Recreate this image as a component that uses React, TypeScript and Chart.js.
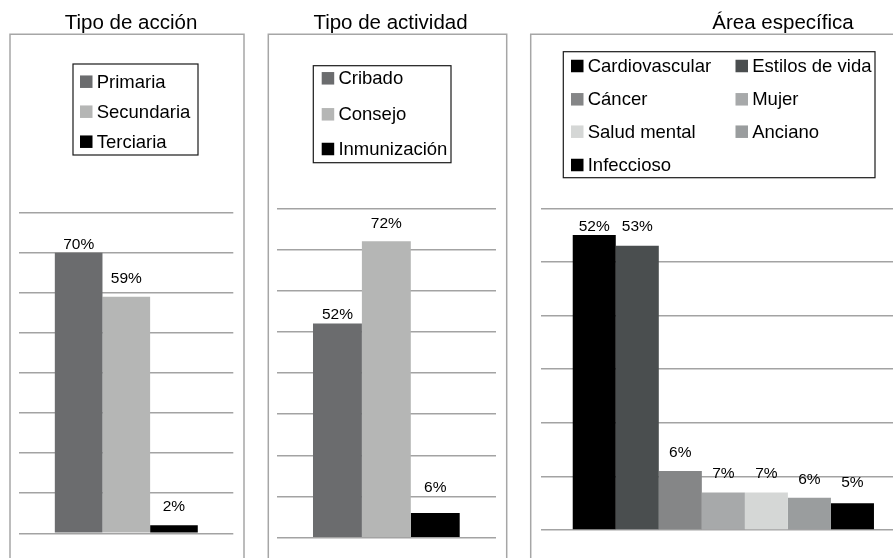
import React, { useEffect, useRef } from "react";
import { Chart, registerables } from "chart.js";

Chart.register(...registerables);

// ---------- DATA ----------
const accionTitle = "Tipo de acción";
const accionSeries = ["Primaria", "Secundaria", "Terciaria"];
const accionValues = [70, 59, 2];
const accionLabels = ["70%", "59%", "2%"];

const actividadTitle = "Tipo de actividad";
const actividadSeries = ["Cribado", "Consejo", "Inmunización"];
const actividadValues = [52, 72, 6];
const actividadLabels = ["52%", "72%", "6%"];

const areaTitle = "Área específica";
const areaSeries = [
  "Cardiovascular",
  "Estilos de vida",
  "Cáncer",
  "Mujer",
  "Salud mental",
  "Anciano",
  "Infeccioso",
];
// bar heights as drawn in the picture
const areaValues = [55, 53, 11, 7, 7, 6, 5];
// labels as printed in the picture
const areaLabels = ["52%", "53%", "6%", "7%", "7%", "6%", "5%"];

const accionAxisMax = 80;
const actividadAxisMax = 80;
const areaAxisMax = 60;
const axisStep = 10;

// ---------- STYLE ----------
const FONT = '"Liberation Sans", Arial, Helvetica, sans-serif';

type PanelStyle = {
  left: number;
  width: number;
  pad: { left: number; right: number; top: number; bottom: number };
  titleX: number;
  titleY: number;
  box: { left: number; top: number; right: number };
  legend: {
    left: number;
    top: number;
    right: number;
    bottom: number;
    cols: number[];
    rows: number[];
  };
  catPct: number;
  yMax: number;
  colors: string[];
  labelOffsets: number[];
};

const style1: PanelStyle = {
  left: 0,
  width: 254,
  pad: { left: 19.3, right: 20.7, top: 212.7, bottom: 24.7 },
  titleX: 131,
  titleY: 29.3,
  box: { left: 10, top: 34.3, right: 244 },
  legend: { left: 73, top: 64, right: 198, bottom: 155, cols: [80], rows: [81.7, 111.7, 141.7] },
  catPct: 0.668,
  yMax: accionAxisMax,
  colors: ["#6b6c6e", "#b5b6b5", "#000000"],
  labelOffsets: [8.5, 18, 19],
};

const style2: PanelStyle = {
  left: 256,
  width: 262,
  pad: { left: 20.7, right: 22, top: 208.3, bottom: 20.3 },
  titleX: 390.5,
  titleY: 29.3,
  box: { left: 268.3, top: 34.3, right: 506.7 },
  legend: { left: 313.3, top: 65.7, right: 451, bottom: 162.7, cols: [321.7], rows: [78.3, 114.3, 149] },
  catPct: 0.669,
  yMax: actividadAxisMax,
  colors: ["#6b6c6e", "#b5b6b5", "#000000"],
  labelOffsets: [8.5, 18, 25],
};

const style3: PanelStyle = {
  left: 520,
  width: 400,
  pad: { left: 21, right: 14.3, top: 208.3, bottom: 28 },
  titleX: 783,
  titleY: 29.3,
  box: { left: 530.7, top: 34.3, right: 915 },
  legend: {
    left: 563.3,
    top: 51.7,
    right: 875,
    bottom: 177.7,
    cols: [571, 735.5],
    rows: [66, 99.3, 131.7, 165],
  },
  catPct: 0.826,
  yMax: areaAxisMax,
  colors: ["#000000", "#4a4e4f", "#858687", "#a7a9aa", "#d5d7d6", "#9a9d9e", "#000000"],
  labelOffsets: [8, 19, 18, 19, 19, 18, 20],
};

function makePlugin(title: string, series: string[], labels: string[], st: PanelStyle) {
  return {
    id: "panelDeco",
    beforeDraw(chart: any) {
      const ctx = chart.ctx as CanvasRenderingContext2D;
      const ox = st.left;
      ctx.save();
      ctx.fillStyle = "#ffffff";
      ctx.fillRect(0, 0, chart.width, chart.height);
      // panel box
      ctx.strokeStyle = "#a6a6a6";
      ctx.lineWidth = 1.5;
      ctx.beginPath();
      ctx.moveTo(st.box.left - ox, chart.height + 5);
      ctx.lineTo(st.box.left - ox, st.box.top);
      ctx.lineTo(st.box.right - ox, st.box.top);
      ctx.lineTo(st.box.right - ox, chart.height + 5);
      ctx.stroke();
      // title
      ctx.fillStyle = "#000000";
      ctx.font = `20.5px ${FONT}`;
      ctx.textAlign = "center";
      ctx.textBaseline = "alphabetic";
      ctx.fillText(title, st.titleX - ox, st.titleY);
      // legend
      const lg = st.legend;
      ctx.strokeStyle = "#1a1a1a";
      ctx.lineWidth = 1.2;
      ctx.strokeRect(lg.left - ox, lg.top, lg.right - lg.left, lg.bottom - lg.top);
      ctx.font = `18.5px ${FONT}`;
      ctx.textAlign = "left";
      ctx.textBaseline = "middle";
      const perRow = lg.cols.length;
      series.forEach((name, i) => {
        const col = i % perRow;
        const row = Math.floor(i / perRow);
        const x = lg.cols[col] - ox;
        const cy = lg.rows[row];
        ctx.fillStyle = st.colors[i];
        ctx.fillRect(x, cy - 6.25, 12.5, 12.5);
        ctx.fillStyle = "#000000";
        ctx.fillText(name, x + 16.7, cy + 1);
      });
      ctx.restore();
    },
    afterDatasetsDraw(chart: any) {
      const ctx = chart.ctx as CanvasRenderingContext2D;
      ctx.save();
      ctx.fillStyle = "#000000";
      ctx.font = `15.5px ${FONT}`;
      ctx.textAlign = "center";
      ctx.textBaseline = "middle";
      series.forEach((_, i) => {
        const meta = chart.getDatasetMeta(i);
        const bar = meta.data[0];
        if (!bar) return;
        ctx.fillText(labels[i], bar.x, bar.y - st.labelOffsets[i]);
      });
      ctx.restore();
    },
  };
}

function Panel(props: {
  title: string;
  series: string[];
  values: number[];
  labels: string[];
  st: PanelStyle;
}) {
  const ref = useRef<HTMLCanvasElement | null>(null);
  const { title, series, values, labels, st } = props;
  useEffect(() => {
    if (!ref.current) return;
    const chart = new Chart(ref.current, {
      type: "bar",
      data: {
        labels: [""],
        datasets: series.map((s, i) => ({
          label: s,
          data: [values[i]],
          backgroundColor: st.colors[i],
          borderWidth: 0,
          barPercentage: 1,
          categoryPercentage: st.catPct,
        })),
      },
      options: {
        responsive: false,
        animation: false,
        layout: { padding: st.pad, autoPadding: false },
        plugins: {
          legend: { display: false },
          title: { display: false },
          tooltip: { enabled: false },
        },
        scales: {
          x: {
            display: false,
          },
          y: {
            display: true,
            min: 0,
            max: st.yMax,
            ticks: { display: false, stepSize: axisStep },
            grid: { color: "#a3a3a3", lineWidth: 1.5, drawTicks: false },
            border: { display: false },
            afterFit: (axis: any) => {
              axis.width = 0;
            },
          },
        },
      } as any,
      plugins: [makePlugin(title, series, labels, st) as any],
    });
    return () => chart.destroy();
  }, []);
  return (
    <canvas
      ref={ref}
      width={st.width}
      height={558}
      style={{
        position: "absolute",
        left: st.left,
        top: 0,
        width: st.width,
        height: 558,
      }}
    />
  );
}

export default function App() {
  return (
    <div
      style={{
        position: "absolute",
        left: 0,
        top: 0,
        width: 893,
        height: 558,
        overflow: "hidden",
        background: "#ffffff",
      }}
    >
      <Panel title={accionTitle} series={accionSeries} values={accionValues} labels={accionLabels} st={style1} />
      <Panel title={actividadTitle} series={actividadSeries} values={actividadValues} labels={actividadLabels} st={style2} />
      <Panel title={areaTitle} series={areaSeries} values={areaValues} labels={areaLabels} st={style3} />
    </div>
  );
}
